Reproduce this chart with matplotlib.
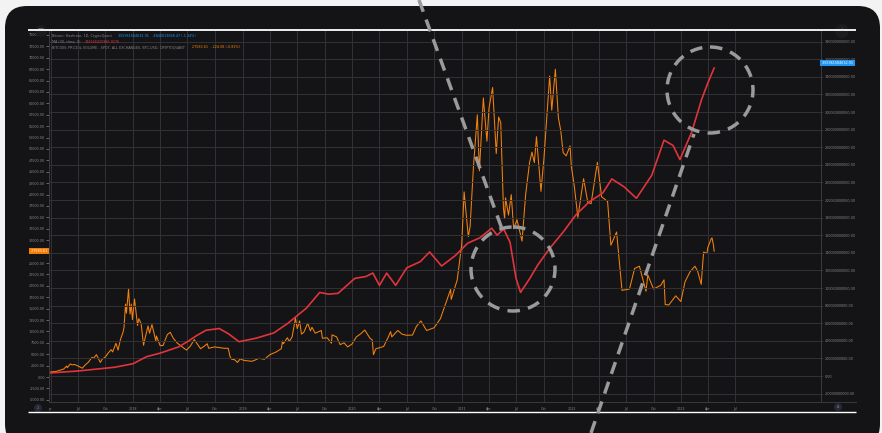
import numpy as np
import pandas as pd
import matplotlib
matplotlib.use("Agg")
import matplotlib.pyplot as plt
import matplotlib.transforms as mtransforms
from matplotlib.patches import FancyBboxPatch, Circle

# BTC price (USD)
price_dates = [
    "2017-03-25", "2017-04-05", "2017-04-20", "2017-05-05", "2017-05-15", "2017-05-25", "2017-05-27",
    "2017-06-06", "2017-06-12", "2017-06-20", "2017-07-01", "2017-07-16", "2017-07-25", "2017-08-05",
    "2017-08-17", "2017-08-22", "2017-09-01", "2017-09-14", "2017-09-20", "2017-10-01", "2017-10-12",
    "2017-10-20", "2017-10-25", "2017-11-05", "2017-11-12", "2017-11-20", "2017-11-29", "2017-12-02",
    "2017-12-07", "2017-12-10", "2017-12-17", "2017-12-22", "2017-12-26", "2017-12-30", "2018-01-06",
    "2018-01-16", "2018-01-20", "2018-01-28", "2018-02-05", "2018-02-10", "2018-02-20", "2018-02-25",
    "2018-03-05", "2018-03-18", "2018-03-20", "2018-04-01", "2018-04-11", "2018-04-25", "2018-05-05",
    "2018-05-15", "2018-05-29", "2018-06-10", "2018-06-28", "2018-07-10", "2018-07-24", "2018-08-14",
    "2018-08-25", "2018-09-05", "2018-09-10", "2018-09-30", "2018-10-31", "2018-11-14", "2018-11-20",
    "2018-11-25", "2018-12-05", "2018-12-15", "2018-12-24", "2018-12-31", "2019-01-10", "2019-01-31",
    "2019-02-08", "2019-02-24", "2019-03-15", "2019-04-02", "2019-04-23", "2019-05-10", "2019-05-14",
    "2019-05-17", "2019-05-30", "2019-06-06", "2019-06-15", "2019-06-26", "2019-07-02", "2019-07-10",
    "2019-07-16", "2019-07-24", "2019-08-06", "2019-08-15", "2019-08-20", "2019-08-31", "2019-09-20",
    "2019-09-24", "2019-10-10", "2019-10-24", "2019-10-26", "2019-11-10", "2019-11-22", "2019-12-05",
    "2019-12-17", "2019-12-31", "2020-01-15", "2020-01-30", "2020-02-12", "2020-02-29", "2020-03-08",
    "2020-03-12", "2020-03-20", "2020-03-31", "2020-04-15", "2020-04-30", "2020-05-08", "2020-05-12",
    "2020-06-01", "2020-06-15", "2020-06-30", "2020-07-20", "2020-08-02", "2020-08-17", "2020-09-05",
    "2020-09-30", "2020-10-21", "2020-11-05", "2020-11-24", "2020-11-26", "2020-12-16", "2020-12-31",
    "2021-01-08", "2021-01-22", "2021-01-28", "2021-02-08", "2021-02-21", "2021-02-28", "2021-03-13",
    "2021-03-25", "2021-04-01", "2021-04-13", "2021-04-25", "2021-05-03", "2021-05-10", "2021-05-19",
    "2021-05-23", "2021-05-26", "2021-06-05", "2021-06-14", "2021-06-22", "2021-07-03", "2021-07-20",
    "2021-08-01", "2021-08-14", "2021-08-22", "2021-08-30", "2021-09-06", "2021-09-21", "2021-10-01",
    "2021-10-20", "2021-10-27", "2021-11-08", "2021-11-18", "2021-11-26", "2021-12-04", "2021-12-14",
    "2021-12-27", "2021-12-31", "2022-01-10", "2022-01-22", "2022-02-10", "2022-02-24", "2022-03-07",
    "2022-03-28", "2022-04-11", "2022-05-01", "2022-05-12", "2022-05-31", "2022-06-13", "2022-06-18",
    "2022-07-13", "2022-07-30", "2022-08-15", "2022-09-06", "2022-09-12", "2022-10-01", "2022-10-25",
    "2022-11-05", "2022-11-09", "2022-11-21", "2022-12-14", "2022-12-31", "2023-01-14", "2023-01-31",
    "2023-02-16", "2023-02-25", "2023-03-09", "2023-03-13", "2023-03-17", "2023-03-28", "2023-03-31",
    "2023-04-11", "2023-04-14", "2023-04-19", "2023-04-21",
]
price_values = [
    970, 1130, 1230, 1540, 1750, 2400, 2050,
    2870, 2650, 2750, 2430, 1930, 2600, 3230,
    4300, 4080, 4900, 3200, 3900, 4400, 5400,
    6000, 5500, 7400, 5900, 8200, 9900, 10900,
    16000, 14000, 19300, 13800, 16000, 12600, 17100,
    11300, 12800, 11700, 6950, 8500, 11200, 9600,
    11500, 7900, 9000, 6900, 6900, 9300, 9800,
    8500, 7400, 6800, 5900, 6700, 8200, 6200,
    6700, 7300, 6300, 6600, 6300, 6300, 4500,
    3900, 3800, 3200, 4000, 3750, 3600, 3450,
    3600, 4100, 3900, 4900, 5500, 6200, 7900,
    7300, 8600, 7800, 8800, 12900, 10600, 12300,
    9400, 9800, 11800, 10100, 10900, 9600, 10200,
    8500, 8600, 7400, 9250, 8800, 7100, 7500,
    6600, 7200, 8800, 9500, 10300, 8550, 8100,
    4900, 6200, 6400, 6700, 8700, 9950, 8800,
    10200, 9400, 9150, 9200, 11100, 12300, 10200,
    10800, 12800, 15600, 19200, 17000, 21300, 29000,
    40600, 30800, 33000, 46000, 57500, 45200, 61200,
    51700, 59000, 63500, 49000, 57000, 55800, 37000,
    34700, 39300, 35500, 40000, 32500, 34500, 29800,
    40000, 47000, 49300, 47000, 52700, 40700, 48000,
    66000, 58500, 67500, 56900, 54000, 49200, 48500,
    50700, 46300, 41900, 35000, 43500, 38300, 38000,
    47100, 39500, 38500, 28900, 31800, 22500, 19000,
    19300, 23800, 24300, 18800, 22400, 19300, 20100,
    21300, 15900, 15800, 17800, 16550, 20900, 23100,
    24300, 23200, 20300, 24100, 27400, 27100, 28400,
    30300, 30500, 28800, 27584,
]

# Hashrate MA(30), right axis
hash_dates = [
    "2017-03-25", "2017-07-01", "2017-11-01", "2018-01-01", "2018-02-15", "2018-04-01", "2018-06-01",
    "2018-07-01", "2018-08-01", "2018-09-01", "2018-10-15", "2018-11-15", "2018-12-20", "2019-02-15",
    "2019-04-15", "2019-06-01", "2019-08-01", "2019-09-15", "2019-10-15", "2019-11-15", "2020-01-10",
    "2020-02-15", "2020-03-10", "2020-04-01", "2020-04-25", "2020-05-25", "2020-07-01", "2020-08-15",
    "2020-09-15", "2020-10-25", "2020-12-10", "2021-01-20", "2021-03-01", "2021-04-10", "2021-04-28",
    "2021-05-20", "2021-06-10", "2021-06-30", "2021-07-15", "2021-08-15", "2021-09-10", "2021-10-20",
    "2021-12-05", "2022-01-15", "2022-03-01", "2022-04-15", "2022-05-15", "2022-06-25", "2022-08-05",
    "2022-09-25", "2022-11-05", "2022-12-05", "2022-12-28", "2023-02-05", "2023-03-10", "2023-04-01",
    "2023-04-21",
]
hash_values = [
    3.4e9, 5.7e9, 1.0e10, 1.4e10, 2.2e10, 2.6e10, 3.3e10,
    3.9e10, 4.6e10, 5.2e10, 5.4e10, 4.8e10, 3.9e10, 4.3e10,
    4.9e10, 6.0e10, 7.7e10, 9.5e10, 9.3e10, 9.4e10, 1.11e11,
    1.13e11, 1.17e11, 1.03e11, 1.17e11, 1.03e11, 1.23e11, 1.30e11,
    1.41e11, 1.25e11, 1.37e11, 1.51e11, 1.57e11, 1.68e11, 1.60e11,
    1.67e11, 1.52e11, 1.11e11, 9.5e10, 1.11e11, 1.26e11, 1.45e11,
    1.64e11, 1.83e11, 1.98e11, 2.08e11, 2.24e11, 2.15e11, 2.02e11,
    2.28e11, 2.68e11, 2.62e11, 2.46e11, 2.77e11, 3.14e11, 3.34e11,
    3.50e11,
]

x_tick_dates = pd.date_range("2017-04-01", "2023-07-01", freq="QS")
x_tick_labels = ["pr"] + [
    str(d.year) if d.month == 1 else d.strftime("%b") for d in x_tick_dates[1:]
]

BG = "#f3f3f3"
CARD = "#141416"
GRID = "#323236"
TXT = "#86868a"
ORANGE = "#f5820d"
RED = "#e0343c"
BLUE = "#2196f3"
W, H = 882, 433

fig = plt.figure(figsize=(W / 100, H / 100), dpi=100, facecolor=BG)

# background card (pixel coords)
bg = fig.add_axes([0, 0, 1, 1], zorder=0)
bg.set_xlim(0, W)
bg.set_ylim(H, 0)
bg.axis("off")
bg.add_patch(FancyBboxPatch((5, 6), 875, 440, boxstyle="round,pad=0,rounding_size=22",
                            fc=CARD, ec="none"))

# main axes: x 49..821, y 30..402 px
ax = fig.add_axes([49 / W, 1 - 402 / H, (821 - 49) / W, (402 - 30) / H], zorder=1)
ax.set_facecolor(CARD)
pd_price = pd.to_datetime(price_dates)
pd_hash = pd.to_datetime(hash_dates)
ax.plot(pd_price, price_values, color=ORANGE, lw=0.75)
ax.set_xlim(pd.Timestamp("2017-03-27"), pd.Timestamp("2024-04-11"))
ax.set_ylim(-5482, 76096)
l_ticks = np.arange(-5000, 75001, 2500)
ax.set_yticks(l_ticks)
# 27500 is hidden behind the last-price tag
ax.set_yticklabels(["" if v == 27500 else f"{v:.2f}" for v in l_ticks])
ax.set_xticks(x_tick_dates)
ax.set_xticklabels(x_tick_labels)
ax.grid(axis="x", color=GRID, lw=0.7)
ax.tick_params(axis="y", labelsize=2.4, colors=TXT, length=2, width=0.5, pad=1)
ax.tick_params(axis="x", labelsize=2.4, colors=TXT, length=0, pad=3.5)
ax.spines["top"].set_visible(False)
for s in ["left", "right", "bottom"]:
    ax.spines[s].set_color("#3a3a3e")
    ax.spines[s].set_linewidth(0.7)

ax2 = ax.twinx()
ax2.plot(pd_hash, hash_values, color=RED, lw=1.2)
ax2.set_ylim(-2.95e10, 3.932e11)
r_ticks = np.arange(-2e10, 3.81e11, 2e10)
ax2.set_yticks(r_ticks)
ax2.set_yticklabels([f"{v:.2f}" for v in r_ticks])
ax2.grid(axis="y", color=GRID, lw=0.7)
ax2.tick_params(axis="y", labelsize=2.4, colors=TXT, length=1, width=0.5, pad=1.5)
ax2.spines["top"].set_visible(False)
for s in ["left", "right", "bottom"]:
    ax2.spines[s].set_color("#3a3a3e")
    ax2.spines[s].set_linewidth(0.7)
ax.set_axisbelow(True)

# last-value labels on the axes
tr_r = mtransforms.blended_transform_factory(ax2.transAxes, ax2.transData)
ax2.text(1.0, hash_values[-1] + 0.06e11, " 355961584632.91 ", transform=tr_r, fontsize=2.4,
         color="white", va="center", ha="left",
         bbox=dict(boxstyle="square,pad=0.35", fc=BLUE, ec="none"))
tr_l = mtransforms.blended_transform_factory(ax.transAxes, ax.transData)
ax.text(-0.001, price_values[-1], " 27583.61 ", transform=tr_l, fontsize=2.4,
        color="white", va="center", ha="right", clip_on=False,
        bbox=dict(boxstyle="square,pad=0.35", fc="#f57c00", ec="none"))

# overlay: legend text, frame lines, hand drawn annotations
fg = fig.add_axes([0, 0, 1, 1], zorder=3)
fg.set_xlim(0, W)
fg.set_ylim(H, 0)
fg.axis("off")
fg.patch.set_alpha(0)

fs = 2.4
fg.text(52, 36, "Bitcoin: Hashrate, 1D, CryptoQuant", fontsize=fs, color=TXT, va="center")
fg.text(118, 36, "355961584632.91   -4840013668.47 (-1.34%)", fontsize=fs, color=BLUE, va="center")
fg.text(52, 42, "MA (30, close, 0)", fontsize=fs, color=TXT, va="center")
fg.text(85, 42, "344166025986.9276", fontsize=fs, color=RED, va="center")
fg.text(52, 47.5, "BITCOIN: PRICE & VOLUME - SPOT, ALL EXCHANGES, BTC-USD, CRYPTOQUANT",
        fontsize=fs, color=TXT, va="center")
fg.text(192, 47.5, "27583.61   -224.08 (-0.81%)", fontsize=fs, color=ORANGE, va="center")

fg.plot([28, 856], [30, 30], color="white", lw=1.3, solid_capstyle="butt")
fg.plot([28, 856], [412, 412], color="white", lw=1.0, solid_capstyle="butt")
fg.plot([821, 856], [402, 402], color="#3a3a3e", lw=0.7)
fg.add_patch(Circle((41, 31), 6, fc="#1c1c1e", ec="none"))
fg.text(41, 30, "^^", fontsize=3, color="#cccccc", ha="center", va="center")
fg.add_patch(Circle((842, 31), 7, fc="#1c1c1e", ec="none"))
fg.text(842, 29.5, "»", fontsize=4, color="#cccccc", ha="center", va="center", rotation=-30)
fg.add_patch(Circle((38, 408), 4, fc="#272a36", ec="none"))
fg.text(38, 408, "2", fontsize=2.4, color=TXT, ha="center", va="center")
fg.add_patch(Circle((838, 407), 4, fc="#272a36", ec="none"))
fg.text(838, 407, "A", fontsize=2.4, color=TXT, ha="center", va="center")

ANN = "#9a9a9a"
dash = (3.6, 2.4)
fg.plot([419, 502], [0, 229], color=ANN, lw=2.5, dashes=dash)
fg.plot([591, 694], [433, 134], color=ANN, lw=2.5, dashes=dash)
fg.add_patch(Circle((513, 269), 42, fill=False, ec=ANN, lw=2.5, linestyle=(0, dash)))
fg.add_patch(Circle((710, 90), 43, fill=False, ec=ANN, lw=2.5, linestyle=(0, dash)))

fig.savefig("out.png", dpi=100, facecolor=BG)
